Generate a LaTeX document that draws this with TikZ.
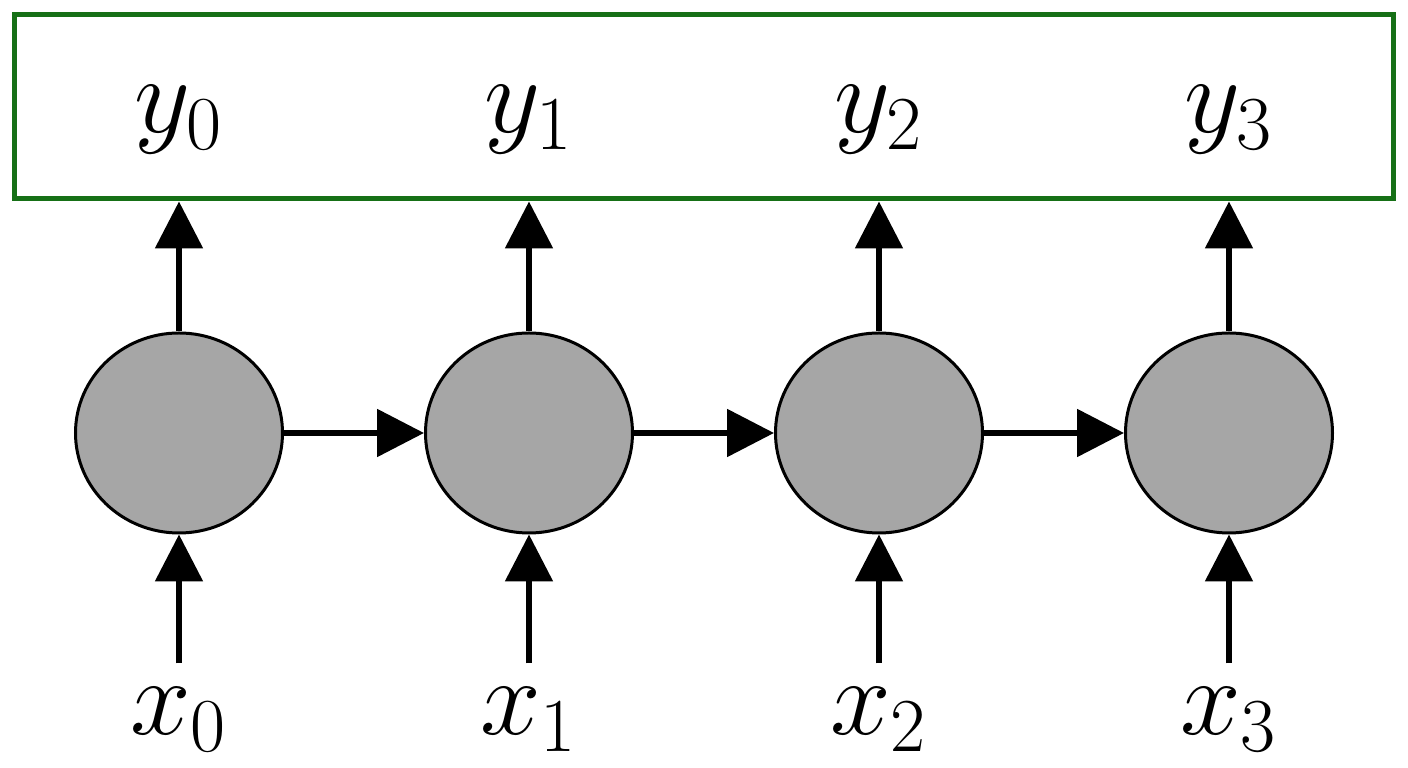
\documentclass[tikz,border=0pt]{standalone}
\usepackage{fix-cm}
\usepackage{amsmath}
\usetikzlibrary{arrows.meta, shapes.geometric, positioning}

\definecolor{boxgreen}{RGB}{22,112,22}
\definecolor{cellgray}{RGB}{166,166,166}

\begin{document}
\begin{tikzpicture}[
  cell/.style={ellipse, draw, line width=0.03cm, fill=cellgray, minimum width=2.07cm, minimum height=2.0cm, inner sep=0pt},
  lbl/.style={anchor=base, inner sep=0pt, font=\fontsize{31}{36}\selectfont},
  link/.style={line width=0.055cm, -{Triangle[length=0.47cm, width=0.47cm]}}
]
\useasboundingbox (0,0) rectangle (14.08,7.68);

% output box
\node (out)[draw=boxgreen, line width=0.05cm, minimum width=13.79cm, minimum height=1.84cm, inner sep=0pt] at (7.035, 6.61) {};

% hidden cells
\node (h0)[cell] at (1.79, 3.35) {};
\node (h1)[cell, right=1.40cm of h0] {};
\node (h2)[cell, right=1.40cm of h1] {};
\node (h3)[cell, right=1.40cm of h2] {};

% outputs and inputs
\node (y0)[lbl] at (1.79, 6.35) {$y_0$};
\node (y1)[lbl] at (5.29, 6.35) {$y_1$};
\node (y2)[lbl] at (8.79, 6.35) {$y_2$};
\node (y3)[lbl] at (12.29, 6.35) {$y_3$};

\node (x0)[lbl] at (1.79, 0.33) {$x_0$};
\node (x1)[lbl] at (5.29, 0.33) {$x_1$};
\node (x2)[lbl] at (8.79, 0.33) {$x_2$};
\node (x3)[lbl] at (12.29, 0.33) {$x_3$};

\coordinate[below=1.29cm of h0] (in0);
\coordinate[below=1.29cm of h1] (in1);
\coordinate[below=1.29cm of h2] (in2);
\coordinate[below=1.29cm of h3] (in3);

\draw[link] (in0) -- (h0);
\draw[link] (in1) -- (h1);
\draw[link] (in2) -- (h2);
\draw[link] (in3) -- (h3);

\draw[link] (h0) -- (h1);
\draw[link] (h1) -- (h2);
\draw[link] (h2) -- (h3);

\draw[link] (h0) -- (h0 |- out.south);
\draw[link] (h1) -- (h1 |- out.south);
\draw[link] (h2) -- (h2 |- out.south);
\draw[link] (h3) -- (h3 |- out.south);
\end{tikzpicture}
\end{document}
